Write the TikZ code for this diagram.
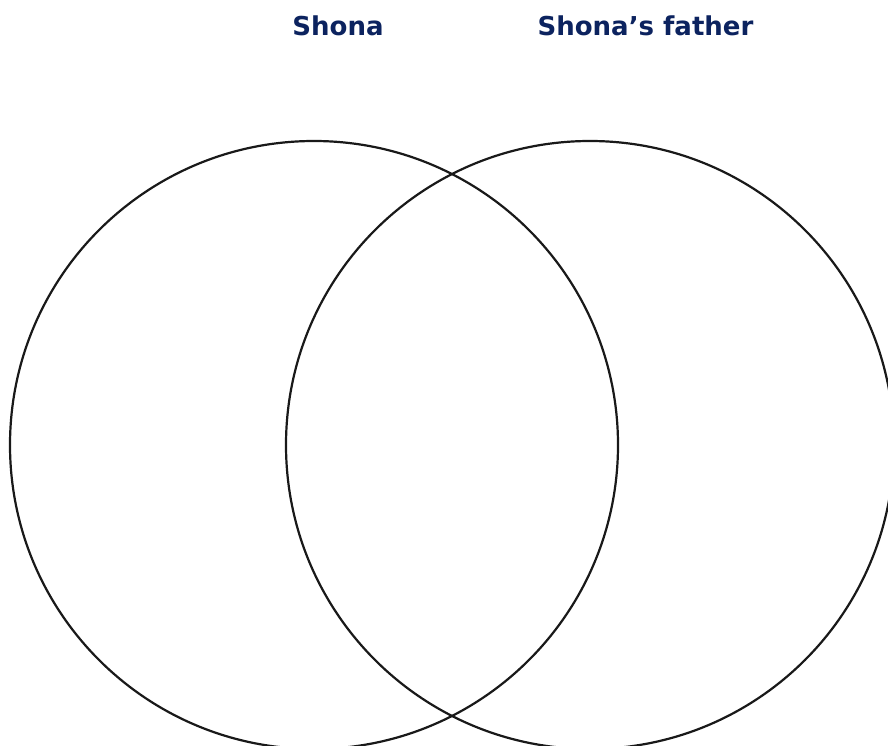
\documentclass[tikz,border=0pt]{standalone}
\usepackage{fontspec}
\setmainfont{DejaVu Sans}
\definecolor{navy}{RGB}{12,35,95}
\begin{document}
\begin{tikzpicture}[x=1pt,y=-1pt,
  ring/.style={draw=black!90,line width=2.2pt},
  title/.style={text=navy,font=\fontsize{26}{30}\selectfont\bfseries,inner sep=0pt,anchor=base}]
\useasboundingbox (0,0) rectangle (888,745);
\fill[white] (0,0) rectangle (888,745);
\begin{scope}
\clip (0,0) rectangle (888,745);
\draw[ring] (314,445) circle[radius=304];
\draw[ring] (590,445) circle[radius=304];
\end{scope}
\node[title] (a) at (338,35) {Shona};
\node[title] (b) at (645.5,35) {Shona’s father};
\end{tikzpicture}
\end{document}
